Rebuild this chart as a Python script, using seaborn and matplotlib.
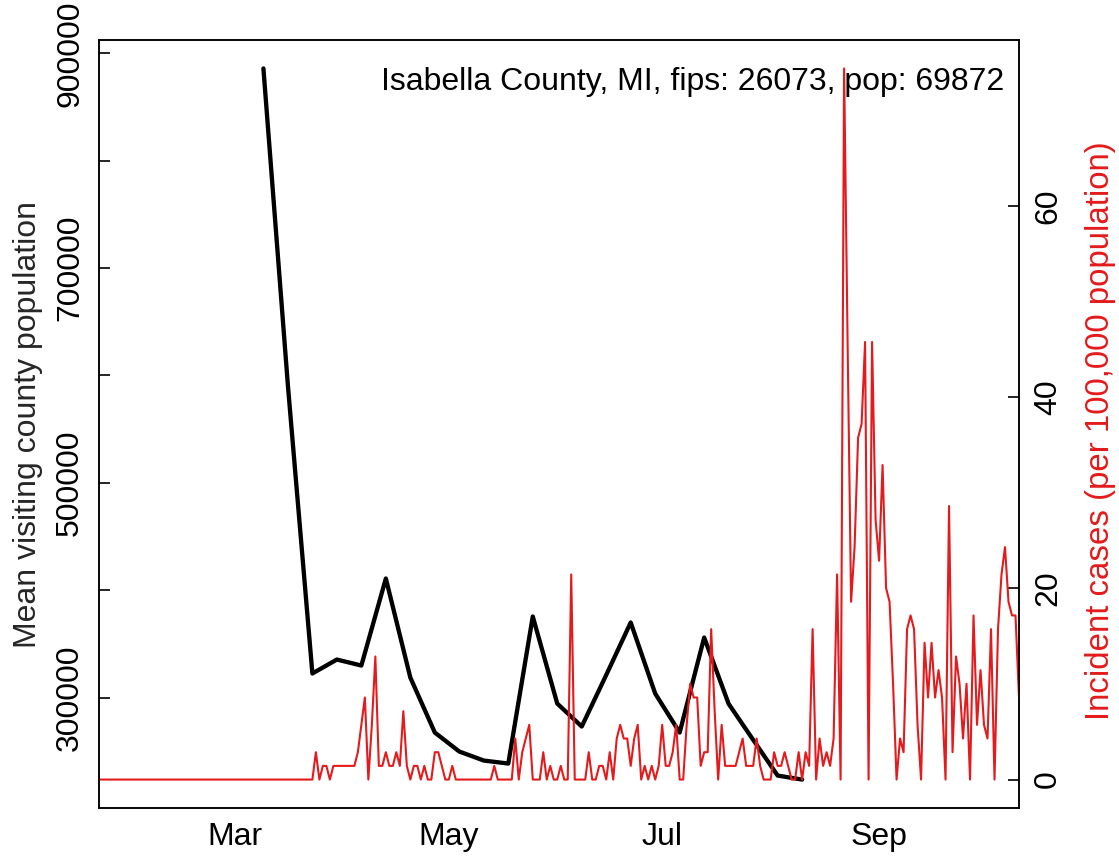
import numpy as np
import pandas as pd
import matplotlib
matplotlib.use("Agg")
import matplotlib.pyplot as plt
import seaborn as sns

# ---------------- data ----------------
county_label = "Isabella County, MI, fips: 26073, pop: 69872"
population = 69872

case_start = "2020-01-22"
# daily new cases (counts), Jan 22 .. Oct 11 2020
daily_cases = (
    [0] * 62
    + [2, 0, 1, 1, 0, 1, 1, 1, 1, 1, 1, 1, 2, 4, 6, 0, 4, 9, 1, 1,      # d62-81
       2, 1, 1, 2, 1, 5, 1, 0, 1, 1, 0, 1, 0, 0, 2, 2, 1, 0, 0, 1]      # d82-101
    + [0] * 11
    + [1, 0, 0, 0, 0, 0, 3, 0, 2, 3, 4, 0, 0, 0, 2, 0, 1, 0, 0, 1,      # d113-132
       0, 0, 15, 0, 0, 0, 0, 2, 0, 0, 1, 1, 0, 2, 0, 3, 4, 3, 3, 1,     # d133-152
       3, 4, 0, 1, 0, 1, 0, 1, 4, 1, 1, 2, 4, 0, 0, 4, 7, 6, 6, 1,      # d153-172
       2, 2, 11, 5, 0, 4, 1, 1, 1, 1, 2, 3, 1, 1, 1, 3, 1, 0, 0, 0,     # d173-192
       2, 1, 1, 2, 1, 0, 0, 2, 0, 2, 1, 11, 0, 3, 1, 2, 1, 3, 15, 0,    # d193-212
       52, 32, 13, 17, 25, 26, 32, 0, 32, 19, 16, 23, 14, 13, 7, 0,     # d213-228
       3, 2, 11, 12, 11, 4, 0, 10, 6, 10, 6, 8, 6, 0, 20, 2, 9, 7,      # d229-246
       3, 7, 0, 12, 4, 8, 4, 3, 11, 0, 11, 15, 17, 13, 12, 12, 6]       # d247-263
)

mobility_start = "2020-03-09"
# weekly mean visiting county population
mean_visiting_pop = [886000, 590700, 322400, 335400, 329800, 410900, 318600,
                     267400, 249700, 241300, 238500, 375500, 294400, 273000,
                     321000, 369900, 303700, 267400, 355900, 294100, 260600,
                     227300, 223600]

month_ticks = ["2020-03-01", "2020-05-01", "2020-07-01", "2020-09-01"]
month_labels = ["Mar", "May", "Jul", "Sep"]
left_ticks = [300000, 400000, 500000, 600000, 700000, 800000, 900000]
left_labels = ["300000", "", "500000", "", "700000", "", "900000"]
right_ticks = [0, 20, 40, 60]
right_labels = ["0", "20", "40", "60"]

# ---------------- frames ----------------
cases_df = pd.DataFrame({
    "date": pd.date_range(case_start, periods=len(daily_cases), freq="D"),
    "incidence": np.array(daily_cases, dtype=float) * 1e5 / population,
})
mob_df = pd.DataFrame({
    "date": pd.date_range(mobility_start, periods=len(mean_visiting_pop), freq="7D"),
    "visitors": mean_visiting_pop,
})


def r_range(vals):
    lo, hi = float(np.min(vals)), float(np.max(vals))
    pad = 0.04 * (hi - lo)
    return lo - pad, hi + pad


# ---------------- style ----------------
sns.set_style("white")
plt.rcParams["font.family"] = ["Liberation Sans", "DejaVu Sans"]
FS = 23
RED = "#E41A1C"

W, H = 1119, 856
fig = plt.figure(figsize=(W / 100, H / 100), dpi=100)
L, R, T, B = 99, 1019, 40, 808
ax = fig.add_axes([L / W, 1 - B / H, (R - L) / W, (B - T) / H])

sns.lineplot(data=mob_df, x="date", y="visitors", ax=ax, color="black",
             linewidth=3.1)
ax2 = ax.twinx()
sns.lineplot(data=cases_df, x="date", y="incidence", ax=ax2, color=RED,
             linewidth=1.5)

ax.set_xlim(cases_df["date"].iloc[0], cases_df["date"].iloc[-1])
ax.set_ylim(*r_range(mob_df["visitors"]))
ax2.set_ylim(*r_range(cases_df["incidence"]))

ax.set_xticks(pd.to_datetime(month_ticks))
ax.set_xticklabels(month_labels)
ax.set_yticks(left_ticks)
ax.set_yticklabels(left_labels)
ax2.set_yticks(right_ticks)
ax2.set_yticklabels(right_labels)

for a in (ax, ax2):
    a.tick_params(direction="in", length=8, width=1.2, labelsize=FS,
                  pad=10, colors="black")
    for s in a.spines.values():
        s.set_visible(True)
        s.set_color("black")
        s.set_linewidth(1.1)
    a.grid(False)

for lbl in ax.get_yticklabels():
    lbl.set_rotation(90)
    lbl.set_va("center")
for lbl in ax2.get_yticklabels():
    lbl.set_rotation(90)
    lbl.set_va("center")

ax.set_xlabel("")
ax.set_ylabel("Mean visiting county population", fontsize=FS)
ax.yaxis.set_label_coords((43 - L) / (R - L), 0.5)
ax2.set_ylabel("Incident cases (per 100,000 population)", fontsize=FS + 0.8,
               color=RED)
ax2.yaxis.set_label_coords((1085 - L) / (R - L), (B - 431) / (B - T))

ax.text((1004 - L) / (R - L), (B - 90) / (B - T), county_label,
        transform=ax.transAxes, ha="right", va="baseline", fontsize=FS,
        color="black", zorder=5)

fig.savefig("out.png", dpi=100, facecolor="white")
